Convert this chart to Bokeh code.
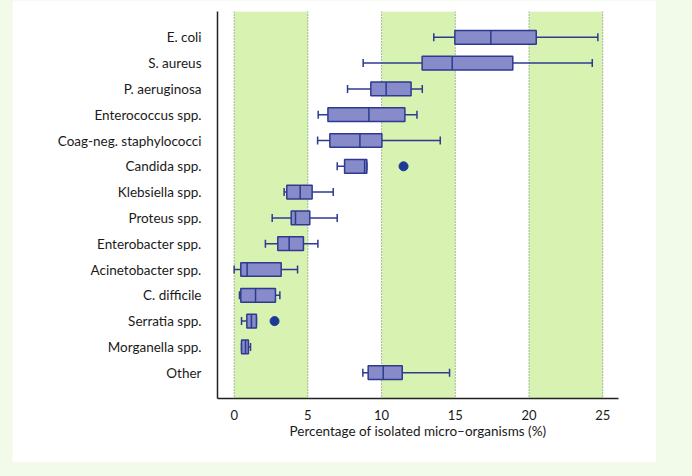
from bokeh.plotting import figure
from bokeh.models import BoxAnnotation, Span, FixedTicker, ColumnDataSource
from bokeh.embed import file_html
from bokeh.resources import INLINE

categories = ["E. coli", "S. aureus", "P. aeruginosa", "Enterococcus spp.",
              "Coag-neg. staphylococci", "Candida spp.", "Klebsiella spp.",
              "Proteus spp.", "Enterobacter spp.", "Acinetobacter spp.",
              "C. difficile", "Serratia spp.", "Morganella spp.", "Other"]
lower = [13.54, 8.75, 7.69, 5.70, 5.66, 6.99, 3.39, 2.58, 2.12, 0.00, 0.36, 0.50, 0.50, 8.73]
q1 = [14.97, 12.75, 9.27, 6.36, 6.49, 7.49, 3.57, 3.87, 2.96, 0.45, 0.45, 0.86, 0.50, 9.09]
median = [17.41, 14.79, 10.31, 9.14, 8.53, 8.85, 4.48, 4.16, 3.73, 0.88, 1.45, 1.17, 0.77, 10.11]
q3 = [20.49, 18.90, 12.00, 11.58, 10.02, 9.00, 5.29, 5.13, 4.70, 3.19, 2.80, 1.51, 0.97, 11.40]
upper = [24.67, 24.29, 12.76, 12.40, 13.98, 9.00, 6.72, 6.99, 5.68, 4.30, 3.10, 1.51, 1.11, 14.61]
outlier_cat = ["Candida spp.", "Serratia spp."]
outlier_val = [11.49, 2.74]
x_ticks = [0, 5, 10, 15, 20, 25]
band_starts = [0, 10, 20]
band_width = 5

n = len(categories)
ypos = {c: n - i for i, c in enumerate(categories)}
ys = [ypos[c] for c in categories]

FONT = "Lato"
BOX_FILL = "#878bc9"
BOX_LINE = "#2e3a8f"

p = figure(width=644, height=462, output_backend="svg", toolbar_location=None,
           x_range=(-1.13, 26.07), y_range=(0, n + 1),
           min_border_left=205, min_border_right=38, min_border_top=11, min_border_bottom=64)
p.background_fill_color = "white"
p.border_fill_color = "white"
p.outline_line_color = None
p.grid.visible = False

for b in band_starts:
    p.add_layout(BoxAnnotation(left=b, right=b + band_width, fill_color="#d8f2b2",
                               fill_alpha=1, line_color=None, level="underlay"))
for t in x_ticks:
    p.add_layout(Span(location=t, dimension="height", line_color="#5d7a62",
                      line_width=1, line_dash="1 2", level="underlay"))

src = ColumnDataSource(dict(y=ys, lower=lower, q1=q1, median=median, q3=q3, upper=upper))
h = 0.53
cap = 0.31
# whiskers
p.segment(x0="lower", y0="y", x1="q1", y1="y", source=src, line_color=BOX_LINE, line_width=1.5)
p.segment(x0="q3", y0="y", x1="upper", y1="y", source=src, line_color=BOX_LINE, line_width=1.5)
# caps
capsrc = ColumnDataSource(dict(y0=[y - cap / 2 for y in ys], y1=[y + cap / 2 for y in ys],
                               lower=lower, upper=upper))
p.segment(x0="lower", y0="y0", x1="lower", y1="y1", source=capsrc, line_color=BOX_LINE, line_width=1.5)
p.segment(x0="upper", y0="y0", x1="upper", y1="y1", source=capsrc, line_color=BOX_LINE, line_width=1.5)
# boxes
p.hbar(y="y", left="q1", right="q3", height=h, source=src, fill_color=BOX_FILL,
       line_color=BOX_LINE, line_width=1.5)
# medians
medsrc = ColumnDataSource(dict(y0=[y - h / 2 for y in ys], y1=[y + h / 2 for y in ys], m=median))
p.segment(x0="m", y0="y0", x1="m", y1="y1", source=medsrc, line_color=BOX_LINE, line_width=1.5)
# outliers
p.scatter(x=outlier_val, y=[ypos[c] for c in outlier_cat], size=9,
          fill_color="#1b3a96", line_color="#1b3a96")

# axes
p.yaxis.ticker = FixedTicker(ticks=ys)
p.yaxis.major_label_overrides = {y: c for y, c in zip(ys, categories)}
p.yaxis.major_tick_line_color = None
p.yaxis.minor_tick_line_color = None
p.yaxis.major_label_standoff = 10
p.yaxis.major_label_text_font = FONT
p.yaxis.major_label_text_font_size = "13.5px"
p.yaxis.major_label_text_color = "#1a1a1a"
p.yaxis.axis_line_color = "#222222"
p.yaxis.axis_line_width = 1.5

p.xaxis.ticker = FixedTicker(ticks=x_ticks)
p.xaxis.major_tick_line_color = None
p.xaxis.minor_tick_line_color = None
p.xaxis.major_label_standoff = 5
p.xaxis.major_label_text_font = FONT
p.xaxis.major_label_text_font_size = "13px"
p.xaxis.major_label_text_color = "#1a1a1a"
p.xaxis.axis_line_color = "#222222"
p.xaxis.axis_line_width = 1.5
p.xaxis.axis_label = "Percentage of isolated micro\u2013organisms (%)"
p.xaxis.axis_label_text_font = FONT
p.xaxis.axis_label_text_font_size = "13.5px"
p.xaxis.axis_label_text_font_style = "normal"
p.xaxis.axis_label_text_color = "#1a1a1a"
p.xaxis.axis_label_standoff = 0

html = file_html(p, INLINE)
html = html.replace("</head>",
                    "<style>html,body{background:#f2fbea !important;}"
                    "body{padding-left:12px !important;}</style></head>", 1)
open("out.html", "w").write(html)
